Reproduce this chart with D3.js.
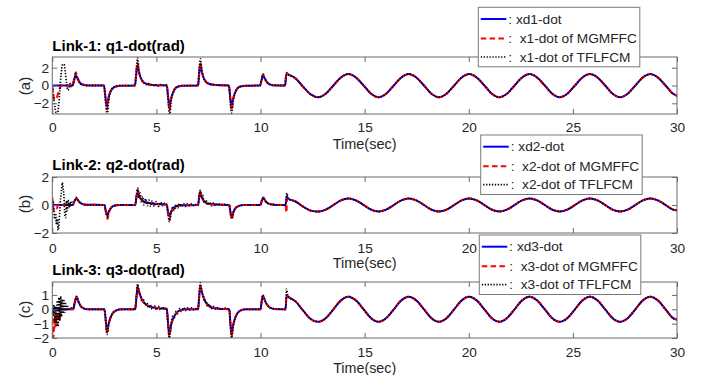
<!DOCTYPE html>
<html>
<head>
<meta charset="utf-8">
<script src="https://cdn.jsdelivr.net/npm/d3@7"></script>
<style>
  body { margin: 0; background: #fff; }
  svg { display: block; font-family: "Liberation Sans", Arial, Helvetica, sans-serif; }
</style>
</head>
<body>
<svg id="chart" width="715" height="375"></svg>
<script>
// ---------- tick labels and text ----------
const xTicks = [0, 5, 10, 15, 20, 25, 30];
const yTicksA = [-2, 0, 2];
const yTicksB = [-2, 0, 2];
const yTicksC = [-2, -1, 0, 1];
const titles = ["Link-1: q1-dot(rad)", "Link-2: q2-dot(rad)", "Link-3: q3-dot(rad)"];
const tags = ["(a)", "(b)", "(c)"];
const xLabel = "Time(sec)";
const legendNames = [
  [": xd1-dot", ":  x1-dot of MGMFFC", ":  x1-dot of TFLFCM"],
  [": xd2-dot", ":  x2-dot of MGMFFC", ":  x2-dot of TFLFCM"],
  [": xd3-dot", ":  x3-dot of MGMFFC", ":  x3-dot of TFLFCM"]
];

// ---------- steady periodic part (t >= 11.32 s), shared by all three curves ----------
const sineT = [
  11.32, 11.68, 12.05, 12.41, 12.77, 13.13, 13.50, 13.86,
  14.22, 14.58, 14.95, 15.31, 15.67, 16.03, 16.40, 16.76,
  17.12, 17.48, 17.85, 18.21, 18.57, 18.93, 19.30, 19.66,
  20.02, 20.38, 20.75, 21.11, 21.47, 21.83, 22.20, 22.56,
  22.92, 23.28, 23.65, 24.01, 24.37, 24.73, 25.10, 25.46,
  25.82, 26.18, 26.55, 26.91, 27.27, 27.63, 28.00, 28.36,
  28.72, 29.08, 29.45, 29.81, 30.00
];
const sine1 = [
  1.25, 0.8, -0.15, -1.0, -1.32, -0.93, 0, 0.9,
  1.28, 0.9, 0, -0.93, -1.32, -0.93, 0, 0.9,
  1.28, 0.9, 0, -0.93, -1.32, -0.93, 0, 0.9,
  1.28, 0.9, 0, -0.93, -1.32, -0.93, 0, 0.9,
  1.28, 0.9, 0, -0.93, -1.32, -0.93, 0, 0.9,
  1.28, 0.9, 0, -0.93, -1.32, -0.93, 0, 0.9,
  1.28, 0.9, 0, -0.93, -1.15
];
const sine2 = [
  0.47, 0.25, -0.12, -0.4, -0.47, -0.33, 0, 0.33,
  0.47, 0.33, 0, -0.33, -0.46, -0.33, 0, 0.33,
  0.47, 0.33, 0, -0.33, -0.46, -0.33, 0, 0.33,
  0.47, 0.33, 0, -0.33, -0.46, -0.33, 0, 0.33,
  0.47, 0.33, 0, -0.33, -0.46, -0.33, 0, 0.33,
  0.47, 0.33, 0, -0.33, -0.46, -0.33, 0, 0.33,
  0.47, 0.33, 0, -0.33, -0.38
];
const sine3 = [
  0.88, 0.55, -0.1, -0.68, -0.87, -0.62, 0, 0.62,
  0.88, 0.62, 0, -0.62, -0.87, -0.62, 0, 0.62,
  0.88, 0.62, 0, -0.62, -0.87, -0.62, 0, 0.62,
  0.88, 0.62, 0, -0.62, -0.87, -0.62, 0, 0.62,
  0.88, 0.62, 0, -0.62, -0.87, -0.62, 0, 0.62,
  0.88, 0.62, 0, -0.62, -0.87, -0.62, 0, 0.62,
  0.88, 0.62, 0, -0.62, -0.72
];

// ---------- transient part (0 .. 11.3 s), [time, value] ----------
const xd1Pulse = [[0,0],[0.98,0],[1.05,0.6],[1.12,1.15],[1.2,0.8],[1.3,0.38],[1.42,0.14],[1.6,0.03],[1.9,0],[2.48,0],[2.55,-1.2],[2.62,-2.3],[2.7,-1.35],[2.78,-0.75],[2.9,-0.32],[3.05,-0.12],[3.3,-0.03],[3.97,0],[4.03,1.2],[4.09,2.3],[4.16,1.5],[4.24,0.9],[4.36,0.42],[4.5,0.2],[4.7,0.08],[5.0,0.03],[5.5,0],[5.56,-1.2],[5.63,-2.35],[5.7,-1.5],[5.78,-0.9],[5.9,-0.35],[6.05,-0.12],[6.3,-0.03],[7.0,0],[7.05,1.2],[7.11,2.35],[7.18,1.5],[7.26,0.9],[7.38,0.42],[7.52,0.2],[7.75,0.08],[8.1,0.03],[8.48,0],[8.54,-1.2],[8.61,-2.4],[8.68,-1.5],[8.76,-0.9],[8.88,-0.35],[9.03,-0.12],[9.3,-0.03],[9.98,0],[10.05,0.6],[10.12,1.15],[10.2,0.8],[10.3,0.4],[10.42,0.15],[10.6,0.03],[11.18,0],[11.24,1.3]];
const mg1Pulse = [[0,0],[0.04,-0.9],[0.12,-1.6],[0.2,-1.45],[0.3,-0.7],[0.4,-0.1],[0.5,0.08],[0.6,0],[0.98,0],[1.05,0.8],[1.13,1.5],[1.2,1.0],[1.3,0.42],[1.42,0.14],[1.6,0.03],[1.9,0],[2.48,0],[2.55,-1.4],[2.63,-2.7],[2.7,-1.5],[2.78,-0.8],[2.9,-0.32],[3.05,-0.12],[3.3,-0.03],[3.97,0],[4.03,1.3],[4.09,2.6],[4.16,1.6],[4.24,0.9],[4.36,0.42],[4.5,0.2],[4.7,0.08],[5.0,0.03],[5.5,0],[5.56,-1.4],[5.63,-2.8],[5.7,-1.6],[5.78,-0.9],[5.9,-0.35],[6.05,-0.12],[6.3,-0.03],[7.0,0],[7.05,1.3],[7.11,2.6],[7.18,1.6],[7.26,0.9],[7.38,0.42],[7.52,0.2],[7.75,0.08],[8.1,0.03],[8.48,0],[8.54,-1.4],[8.61,-2.8],[8.68,-1.6],[8.76,-0.9],[8.88,-0.35],[9.03,-0.12],[9.3,-0.03],[9.98,0],[10.05,0.65],[10.12,1.25],[10.2,0.8],[10.3,0.4],[10.42,0.15],[10.6,0.03],[11.18,0],[11.24,1.4]];
const tf1Pulse = [[0,0],[0.06,-1.2],[0.14,-2.6],[0.22,-3.4],[0.3,-2.4],[0.36,-0.6],[0.42,1.2],[0.48,2.3],[0.56,2.4],[0.62,1.6],[0.68,0.3],[0.74,-0.5],[0.8,-0.3],[0.86,0.2],[0.92,-0.15],[0.98,0.1],[1.05,0.7],[1.12,1.3],[1.2,0.85],[1.3,0.35],[1.42,0.1],[1.6,0.02],[2.48,0],[2.55,-1.6],[2.63,-3.4],[2.7,-1.8],[2.78,-0.8],[2.9,-0.25],[3.05,-0.1],[3.3,0],[3.97,0],[4.03,1.6],[4.09,3.1],[4.16,1.7],[4.24,0.9],[4.32,0.5],[4.4,0.3],[4.5,0.1],[4.6,0.25],[4.7,0.05],[4.8,0.15],[4.9,-0.05],[5.0,0.1],[5.1,-0.05],[5.2,0.1],[5.3,0],[5.4,0.08],[5.5,0],[5.56,-1.6],[5.64,-3.4],[5.7,-1.9],[5.78,-1.0],[5.9,-0.3],[6.05,-0.1],[6.3,0],[7.0,0],[7.05,1.6],[7.11,3.0],[7.18,1.7],[7.26,0.9],[7.38,0.4],[7.52,0.2],[7.75,0.08],[8.1,0.03],[8.48,0],[8.54,-1.6],[8.61,-3.1],[8.68,-1.8],[8.76,-1.0],[8.88,-0.35],[9.03,-0.12],[9.3,-0.03],[9.98,0],[10.05,0.7],[10.12,1.25],[10.2,0.8],[10.3,0.4],[10.42,0.15],[10.6,0.03],[11.18,0],[11.24,1.45]];

const xd2Pulse = [[0,0],[0.98,0],[1.06,0.25],[1.15,0.45],[1.25,0.3],[1.38,0.12],[1.6,0.02],[2.5,0],[2.57,-0.4],[2.64,-0.75],[2.72,-0.45],[2.82,-0.2],[2.96,-0.05],[3.2,0],[3.98,0],[4.04,0.5],[4.1,0.9],[4.18,0.6],[4.28,0.38],[4.45,0.22],[4.7,0.12],[5.1,0.06],[5.5,0.02],[5.55,-0.4],[5.62,-0.8],[5.7,-0.5],[5.8,-0.28],[5.95,-0.1],[6.2,-0.02],[7.0,0],[7.05,0.5],[7.1,0.95],[7.18,0.55],[7.28,0.28],[7.45,0.12],[7.7,0.05],[8.2,0.01],[8.5,0],[8.55,-0.45],[8.62,-0.85],[8.7,-0.5],[8.8,-0.22],[8.95,-0.08],[9.2,0],[10.0,0],[10.06,0.3],[10.13,0.5],[10.22,0.32],[10.32,0.15],[10.5,0.05],[10.8,0],[11.2,0],[11.26,0.6]];
const mg2Pulse = [[0,0.55],[0.03,0.1],[0.06,-0.35],[0.12,-0.45],[0.2,-0.3],[0.3,0.02],[0.4,0.05],[0.5,0],[0.98,0],[1.06,0.28],[1.15,0.5],[1.25,0.3],[1.38,0.12],[1.6,0.02],[2.5,0],[2.57,-0.5],[2.65,-1.0],[2.72,-0.55],[2.82,-0.2],[2.96,-0.05],[3.2,0],[3.98,0],[4.04,0.6],[4.1,1.1],[4.18,0.65],[4.28,0.38],[4.45,0.22],[4.7,0.12],[5.1,0.06],[5.5,0.02],[5.55,-0.5],[5.62,-1.05],[5.7,-0.55],[5.8,-0.28],[5.95,-0.1],[6.2,-0.02],[7.0,0],[7.05,0.55],[7.1,1.0],[7.18,0.55],[7.28,0.28],[7.45,0.12],[7.7,0.05],[8.2,0.01],[8.5,0],[8.55,-0.55],[8.62,-1.0],[8.7,-0.5],[8.8,-0.22],[8.95,-0.08],[9.2,0],[10.0,0],[10.06,0.3],[10.13,0.55],[10.22,0.32],[10.32,0.15],[10.5,0.05],[10.8,0],[11.2,0],[11.24,-0.55],[11.28,0.5]];
const tf2Pulse = [[0,0],[0.04,0.3],[0.08,-0.5],[0.12,-1.0],[0.16,-0.6],[0.2,-1.4],[0.24,-1.0],[0.28,-1.8],[0.32,-1.3],[0.36,-0.4],[0.4,0.5],[0.44,1.0],[0.48,1.6],[0.52,1.2],[0.56,0.6],[0.6,-0.7],[0.64,-0.9],[0.68,0.3],[0.72,-0.4],[0.76,0.35],[0.82,-0.2],[0.88,0.25],[0.94,-0.1],[1.0,0.2],[1.08,0.35],[1.15,0.55],[1.25,0.3],[1.38,0.12],[1.6,0.02],[2.5,0],[2.57,-0.45],[2.64,-0.85],[2.72,-0.45],[2.82,-0.2],[2.96,-0.05],[3.2,0],[3.98,0],[4.04,0.7],[4.1,1.2],[4.16,0.5],[4.22,0.85],[4.28,0.2],[4.34,0.6],[4.4,0.0],[4.48,0.45],[4.56,-0.05],[4.64,0.35],[4.72,-0.1],[4.8,0.3],[4.9,-0.1],[5.0,0.25],[5.1,-0.1],[5.2,0.2],[5.3,-0.05],[5.4,0.15],[5.5,0],[5.55,-0.6],[5.63,-1.2],[5.7,-0.6],[5.78,-0.1],[5.86,-0.4],[5.94,0.05],[6.02,-0.2],[6.1,0.1],[6.2,-0.1],[6.3,0.1],[6.4,-0.1],[6.5,0.1],[6.6,-0.05],[6.7,0.1],[6.8,-0.05],[6.9,0.05],[7.0,0],[7.05,0.6],[7.1,1.05],[7.16,0.5],[7.22,0.7],[7.3,0.15],[7.38,0.35],[7.46,0.0],[7.55,0.2],[7.65,-0.05],[7.75,0.15],[7.85,-0.05],[7.95,0.1],[8.1,0],[8.3,0.05],[8.5,0],[8.55,-0.5],[8.62,-1.0],[8.7,-0.45],[8.8,-0.2],[8.95,-0.05],[9.2,0],[10.0,0],[10.06,0.35],[10.13,0.55],[10.22,0.3],[10.32,0.15],[10.5,0.05],[10.8,0],[11.2,0],[11.26,0.85]];

const xd3Pulse = [[0,0],[1.0,0],[1.08,0.45],[1.16,0.85],[1.25,0.55],[1.35,0.25],[1.5,0.07],[1.7,0],[2.5,0],[2.57,-0.8],[2.63,-1.6],[2.7,-1.05],[2.78,-0.65],[2.9,-0.28],[3.05,-0.1],[3.3,0],[3.98,0],[4.04,0.8],[4.1,1.55],[4.17,1.2],[4.25,0.85],[4.38,0.5],[4.55,0.28],[4.8,0.15],[5.1,0.08],[5.5,0.03],[5.55,-0.8],[5.62,-1.75],[5.7,-1.1],[5.8,-0.65],[5.95,-0.28],[6.12,-0.08],[6.4,0],[7.0,0],[7.05,0.8],[7.11,1.6],[7.18,1.2],[7.26,0.85],[7.38,0.45],[7.55,0.2],[7.8,0.07],[8.2,0.02],[8.5,0],[8.55,-0.9],[8.61,-1.8],[8.68,-1.15],[8.76,-0.7],[8.88,-0.3],[9.05,-0.08],[9.3,0],[10.0,0],[10.05,0.5],[10.11,0.95],[10.2,0.65],[10.3,0.35],[10.45,0.12],[10.7,0.02],[11.2,0],[11.25,0.95]];
const mg3Pulse = [[0,0],[0.02,-1.0],[0.05,-2.0],[0.08,-1.5],[0.12,-0.6],[0.16,-1.3],[0.2,-0.4],[0.24,-1.1],[0.28,-0.2],[0.34,-0.8],[0.4,-0.1],[0.5,0],[1.0,0],[1.08,0.5],[1.16,0.9],[1.25,0.55],[1.35,0.25],[1.5,0.07],[1.7,0],[2.5,0],[2.57,-0.85],[2.63,-1.7],[2.7,-1.1],[2.78,-0.65],[2.9,-0.28],[3.05,-0.1],[3.3,0],[3.98,0],[4.04,0.85],[4.1,1.65],[4.17,1.2],[4.25,0.85],[4.38,0.5],[4.55,0.28],[4.8,0.15],[5.1,0.08],[5.5,0.03],[5.55,-0.9],[5.62,-1.9],[5.7,-1.15],[5.8,-0.65],[5.95,-0.28],[6.12,-0.08],[6.4,0],[7.0,0],[7.05,0.85],[7.11,1.7],[7.18,1.2],[7.26,0.85],[7.38,0.45],[7.55,0.2],[7.8,0.07],[8.2,0.02],[8.5,0],[8.55,-0.95],[8.61,-1.9],[8.68,-1.15],[8.76,-0.7],[8.88,-0.3],[9.05,-0.08],[9.3,0],[10.0,0],[10.05,0.5],[10.11,0.95],[10.2,0.65],[10.3,0.35],[10.45,0.12],[10.7,0.02],[11.2,0],[11.25,1.0]];
const tf3Pulse = [[0,0],[0.04,-0.4],[0.08,0.3],[0.12,-0.9],[0.16,0.2],[0.2,-1.1],[0.24,0.6],[0.28,-1.2],[0.32,0.8],[0.36,-0.8],[0.4,0.9],[0.44,-0.5],[0.48,0.7],[0.52,-0.3],[0.56,0.6],[0.6,-0.2],[0.64,0.4],[0.7,-0.1],[0.76,0.2],[0.84,0],[0.92,0.1],[1.0,0.05],[1.08,0.5],[1.16,0.9],[1.25,0.55],[1.35,0.25],[1.5,0.07],[1.7,0],[2.5,0],[2.57,-0.85],[2.63,-1.75],[2.7,-1.1],[2.78,-0.65],[2.9,-0.28],[3.05,-0.1],[3.3,0],[3.98,0],[4.04,0.9],[4.1,1.75],[4.17,1.2],[4.23,1.0],[4.3,0.6],[4.38,0.65],[4.46,0.3],[4.54,0.45],[4.62,0.1],[4.7,0.3],[4.8,0.0],[4.9,0.25],[5.0,-0.05],[5.1,0.2],[5.2,-0.05],[5.3,0.15],[5.4,0],[5.5,0.05],[5.55,-0.95],[5.62,-2.0],[5.7,-1.15],[5.78,-0.5],[5.86,-0.6],[5.94,-0.15],[6.02,-0.3],[6.1,0.05],[6.2,-0.15],[6.3,0.1],[6.4,-0.1],[6.5,0.1],[6.6,-0.05],[6.7,0.1],[6.8,-0.05],[6.9,0.05],[7.0,0],[7.05,0.9],[7.11,1.85],[7.18,1.15],[7.24,1.0],[7.3,0.55],[7.38,0.6],[7.46,0.2],[7.55,0.35],[7.65,0.05],[7.75,0.2],[7.85,0],[7.95,0.12],[8.1,-0.02],[8.3,0.08],[8.5,0],[8.55,-1.0],[8.61,-2.0],[8.68,-1.2],[8.76,-0.7],[8.88,-0.3],[9.05,-0.08],[9.3,0],[10.0,0],[10.05,0.55],[10.11,1.0],[10.2,0.65],[10.3,0.35],[10.45,0.12],[10.7,0.02],[11.2,0],[11.25,1.4]];

// ---------- layout ----------
const fontFam = '"Liberation Sans", Arial, Helvetica, sans-serif';
const axisColor = "#6a6a6a";
const textColor = "#262626";
const boxLeft = 52.3, boxRight = 677;

const panels = [
  { top: 57,  bottom: 114, yDom: [-3.2, 3.2], yTicks: yTicksA, titleY: 50.5, xPad: 8.6,  timeY: 149,   timeSize: 14.5, tagY: 86,
    pulses: [xd1Pulse, mg1Pulse, tf1Pulse], sine: sine1 },
  { top: 177, bottom: 233, yDom: [-2, 2],     yTicks: yTicksB, titleY: 170,  xPad: 9.8,  timeY: 268,   timeSize: 14.5, tagY: 204,
    pulses: [xd2Pulse, mg2Pulse, tf2Pulse], sine: sine2 },
  { top: 282, bottom: 338, yDom: [-2, 1.9],   yTicks: yTicksC, titleY: 274.5, xPad: 9.2, timeY: 372.8, timeSize: 14.3, tagY: 309.5,
    pulses: [xd3Pulse, mg3Pulse, tf3Pulse], sine: sine3 }
];

const legends = [
  { left: 478.3, top: 7.3 },
  { left: 480.7, top: 135 },
  { left: 479.3, top: 235 }
];
const legendW = 161.5, legendH = 59.5, legendRows = [11.7, 31.2, 49.7];

// line styles: reference, MGMFFC, TFLFCM
const styles = [
  { color: "#0000ff", width: 2,   dash: null },
  { color: "#ff0000", width: 2,   dash: "5.5,3.3" },
  { color: "#000000", width: 1.7, dash: "1.3,1.6" }
];

const svg = d3.select("#chart");
const x = d3.scaleLinear().domain([0, 30]).range([boxLeft, boxRight]);

panels.forEach((p, i) => {
  const y = d3.scaleLinear().domain(p.yDom).range([p.bottom, p.top]);
  const g = svg.append("g");

  const clipId = "clip" + i;
  svg.append("defs").append("clipPath").attr("id", clipId)
    .append("rect").attr("x", boxLeft).attr("y", p.top)
    .attr("width", boxRight - boxLeft).attr("height", p.bottom - p.top);

  const tail = sineT.map((t, k) => [t, p.sine[k]]);
  const line = d3.line().x(d => x(d[0])).y(d => y(d[1])).curve(d3.curveMonotoneX);

  const lines = g.append("g").attr("clip-path", `url(#${clipId})`);
  p.pulses.forEach((pulse, s) => {
    const st = styles[s];
    lines.append("path")
      .datum(pulse.concat(tail))
      .attr("d", line)
      .attr("fill", "none")
      .attr("stroke", st.color)
      .attr("stroke-width", st.width)
      .attr("stroke-dasharray", st.dash)
      .attr("stroke-linejoin", "round");
  });

  // axes with inward ticks on all four sides
  const styleAxis = sel => {
    sel.attr("font-family", fontFam).attr("font-size", 13.7);
    sel.select(".domain").remove();
    sel.selectAll(".tick line").attr("stroke", axisColor);
    sel.selectAll(".tick text").attr("fill", textColor);
  };
  g.append("g").attr("transform", `translate(0,${p.bottom})`)
    .call(d3.axisBottom(x).tickValues(xTicks).tickSize(-5).tickPadding(p.xPad).tickFormat(d3.format("d")))
    .call(styleAxis);
  g.append("g").attr("transform", `translate(0,${p.top})`)
    .call(d3.axisTop(x).tickValues(xTicks).tickSize(-5).tickFormat(""))
    .call(styleAxis);
  g.append("g").attr("transform", `translate(${boxLeft},0)`)
    .call(d3.axisLeft(y).tickValues(p.yTicks).tickSize(-5).tickPadding(3.2).tickFormat(d3.format("d")))
    .call(styleAxis);
  g.append("g").attr("transform", `translate(${boxRight},0)`)
    .call(d3.axisRight(y).tickValues(p.yTicks).tickSize(-5).tickFormat(""))
    .call(styleAxis);

  g.append("rect")
    .attr("x", boxLeft).attr("y", p.top)
    .attr("width", boxRight - boxLeft).attr("height", p.bottom - p.top)
    .attr("fill", "none").attr("stroke", axisColor).attr("stroke-width", 1);

  g.append("text")
    .attr("x", boxLeft).attr("y", p.titleY)
    .attr("font-weight", "bold").attr("font-size", 15)
    .attr("fill", "#000").text(titles[i]);

  g.append("text")
    .attr("x", (boxLeft + boxRight) / 2).attr("y", p.timeY)
    .attr("text-anchor", "middle").attr("font-size", p.timeSize)
    .attr("fill", textColor).text(xLabel);

  g.append("text")
    .attr("transform", `translate(30,${p.tagY}) rotate(-90)`)
    .attr("text-anchor", "middle").attr("font-size", 15)
    .attr("fill", textColor).text(tags[i]);
});

// legends drawn last so they sit over the axes
legends.forEach((L, i) => {
  const g = svg.append("g").attr("transform", `translate(${L.left},${L.top})`);
  g.append("rect").attr("width", legendW).attr("height", legendH)
    .attr("fill", "#fff").attr("stroke", "#7a7a7a").attr("stroke-width", 1);
  legendRows.forEach((ry, r) => {
    const st = styles[r];
    g.append("line")
      .attr("x1", 2.5).attr("x2", 28).attr("y1", ry).attr("y2", ry)
      .attr("stroke", st.color).attr("stroke-width", st.width)
      .attr("stroke-dasharray", st.dash);
    g.append("text")
      .attr("x", 30).attr("y", ry + 4.6)
      .attr("font-size", 13.7).attr("fill", textColor)
      .style("white-space", "pre")
      .text(legendNames[i][r]);
  });
});
</script>
</body>
</html>
